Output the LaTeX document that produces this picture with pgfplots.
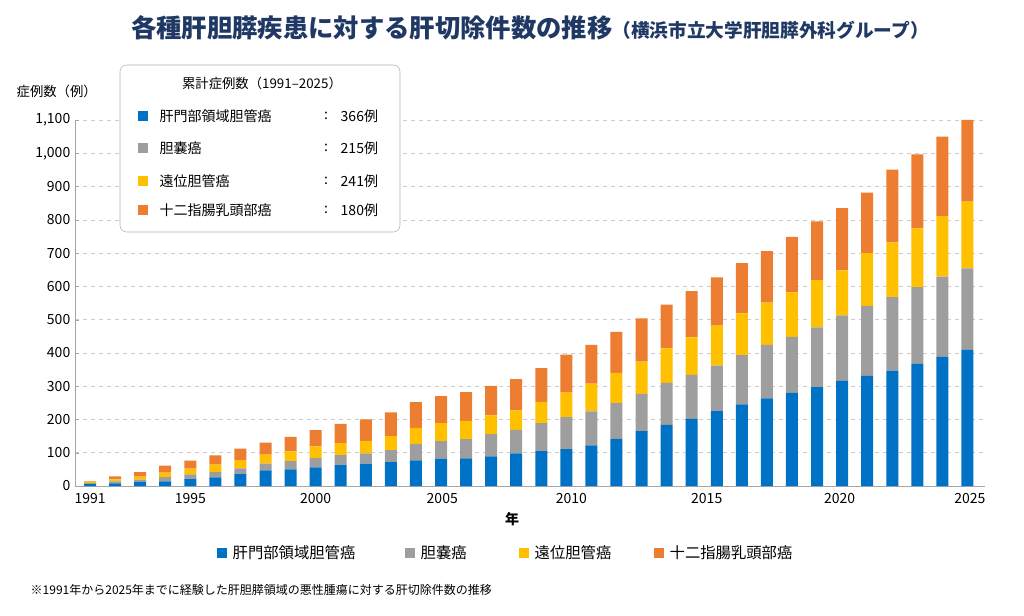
\documentclass[border=0pt]{standalone}
\usepackage{pgfplots}
\pgfplotsset{compat=1.18}
\usepackage{pgfplotstable}
\usepackage{fontspec}
\setmainfont{Noto Sans CJK JP}
\definecolor{cb}{RGB}{0,114,198}
\definecolor{cg}{RGB}{158,158,158}
\definecolor{cy}{RGB}{255,192,0}
\definecolor{co}{RGB}{237,125,49}
\definecolor{navy}{RGB}{31,56,100}
\pgfplotstableread{
i b g y o
0 6 3 4 2
1 8 6 6 9
2 13 6 9 14
3 14 13 13 21
4 21 14 17 24
5 26 16 22 28
6 36 17 25 34
7 47 20 27 36
8 50 25 29 44
9 56 28 35 49
10 63 30 36 58
11 67 31 38 64
12 72 36 42 71
13 77 49 49 77
14 82 53 54 81
15 83 58 55 86
16 89 67 56 89
17 98 71 58 94
18 105 84 64 101
19 111 96 74 114
20 122 102 84 116
21 142 107 91 123
22 165 112 97 130
23 184 126 104 131
24 202 132 113 139
25 225 137 120 145
26 245 148 126 151
27 263 161 127 155
28 280 168 134 167
29 297 180 142 176
30 316 197 135 187
31 331 210 159 182
32 347 221 164 219
33 367 231 176 223
34 388 241 182 239
35 409 245 201 245
}\data
\begin{document}
\begin{tikzpicture}
\path (0,0) rectangle (768pt,461.25pt);
\begin{axis}[at={(56.25pt,96.75pt)},anchor=south west,scale only axis,
 width=682.5pt,height=274.5pt,
 ybar stacked,bar width=9pt,
 xmin=-0.6,xmax=35.7,ymin=0,ymax=1100,
 xtick={0,4,9,14.05,19.2,24.6,29.9,35.1},
 xticklabels={1991,1995,2000,2005,2010,2015,2020,2025},
 ytick={0,100,...,1100},
 /pgf/number format/.cd,1000 sep={,},assume math mode=true,/pgfplots/.cd,
 ymajorgrids,grid style={dashed,gray!40},
 axis y line*=left,axis x line*=bottom,
 axis line style={gray!70},
 major tick length=3pt,tick style={gray!70},
 x tick style={draw=none},
 tick label style={font=\fontsize{10.5}{12}\selectfont},
 xticklabel style={yshift=-2pt},
 clip=false]
\addplot[fill=cb,draw=none] table[x=i,y=b]{\data};
\addplot[fill=cg,draw=none] table[x=i,y=g]{\data};
\addplot[fill=cy,draw=none] table[x=i,y=y]{\data};
\addplot[fill=co,draw=none] table[x=i,y=o]{\data};
\end{axis}
\begin{scope}[shift={(0,461.25pt)},x=0.75pt,y=-0.75pt]
\node[anchor=center,text=navy,font=\bfseries\fontsize{19}{21}\selectfont] at (530,28)
 {各種肝胆膵疾患に対する肝切除件数の推移{\fontsize{14}{16}\selectfont（横浜市立大学肝胆膵外科グループ）}};
\node[anchor=west,font=\fontsize{10}{12}\selectfont] at (12,91) {症例数（例）};
\node[font=\bfseries\fontsize{10.5}{12}\selectfont] at (512,519) {年};
\draw[gray!60,rounded corners=5pt,fill=white] (120,65) rectangle (400,232);
\node[font=\fontsize{10}{12}\selectfont] at (262,83) {累計症例数（1991–2025）};
\foreach \yy/\c/\t/\v in {116/cb/肝門部領域胆管癌/366例,148/cg/胆嚢癌/215例,181/cy/遠位胆管癌/241例,210/co/十二指腸乳頭部癌/180例}{
 \fill[\c] (138,\yy-5) rectangle (148,\yy+5);
 \node[anchor=west,font=\fontsize{10.5}{12}\selectfont] at (155,\yy) {\t};
 \node[font=\fontsize{10.5}{12}\selectfont] at (326,\yy) {:};
 \node[anchor=west,font=\fontsize{10.5}{12}\selectfont] at (336,\yy) {\v};
}
\foreach \xx/\c/\t in {222/cb/肝門部領域胆管癌,410/cg/胆嚢癌,524/cy/遠位胆管癌,659/co/十二指腸乳頭部癌}{
 \fill[\c] (\xx-5,548) rectangle (\xx+5,558);
 \node[anchor=west,font=\fontsize{11.5}{13}\selectfont] at (\xx+6,553) {\t};
}
\node[anchor=west,font=\fontsize{9}{11}\selectfont] at (26,590) {※1991年から2025年までに経験した肝胆膵領域の悪性腫瘍に対する肝切除件数の推移};
\end{scope}
\end{tikzpicture}
\end{document}
